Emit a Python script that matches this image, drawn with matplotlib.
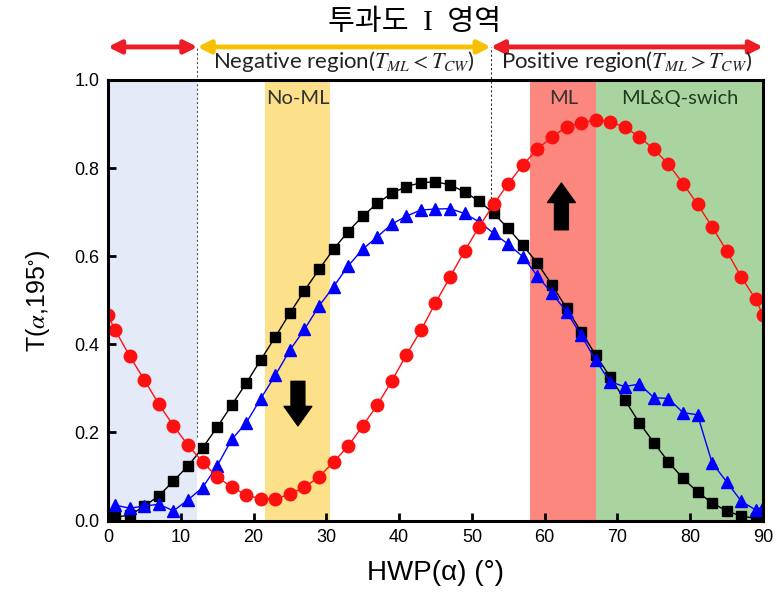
import numpy as np
import matplotlib.pyplot as plt

plt.rcParams['font.family'] = ['Liberation Sans', 'Noto Sans CJK KR', 'DejaVu Sans']
plt.rcParams['mathtext.fontset'] = 'stix'

# HWP angle (deg) for each curve
x_red = [0] + list(range(1, 90, 2)) + [90]
x_black = list(range(1, 90, 2))
x_blue = list(range(1, 90, 2)) + [90]

t_red = [0.466, 0.432, 0.373, 0.319, 0.264, 0.215, 0.171, 0.133, 0.099, 0.076,
         0.058, 0.049, 0.049, 0.060, 0.076, 0.099, 0.133, 0.169, 0.215, 0.262,
         0.317, 0.376, 0.432, 0.494, 0.553, 0.612, 0.667, 0.718, 0.765, 0.807,
         0.843, 0.871, 0.893, 0.903, 0.909, 0.905, 0.893, 0.871, 0.843, 0.809,
         0.765, 0.718, 0.667, 0.612, 0.553, 0.502, 0.466]
t_black = [0.008, 0.012, 0.033, 0.056, 0.090, 0.124, 0.165, 0.212, 0.262, 0.312,
           0.365, 0.417, 0.471, 0.522, 0.570, 0.616, 0.656, 0.691, 0.720, 0.743,
           0.758, 0.767, 0.769, 0.762, 0.746, 0.725, 0.697, 0.663, 0.625, 0.584,
           0.535, 0.482, 0.429, 0.376, 0.326, 0.274, 0.222, 0.177, 0.133, 0.096,
           0.065, 0.040, 0.022, 0.010, 0.005]
t_blue = [0.035, 0.028, 0.033, 0.037, 0.022, 0.047, 0.075, 0.124, 0.184, 0.222,
          0.277, 0.330, 0.387, 0.434, 0.487, 0.531, 0.578, 0.616, 0.644, 0.673,
          0.691, 0.705, 0.707, 0.708, 0.697, 0.678, 0.652, 0.627, 0.599, 0.555,
          0.516, 0.474, 0.421, 0.364, 0.315, 0.304, 0.310, 0.279, 0.277, 0.245,
          0.240, 0.131, 0.088, 0.044, 0.024, 0.031]

# region boundaries (deg)
b_left = 12.3
b_right = 52.6
no_ml = (21.6, 30.5)
ml = (58.0, 67.1)
mlq = (67.1, 90)

fig = plt.figure(figsize=(7.79, 6.06), dpi=100)
ax = fig.add_axes([0.1386, 0.141, 0.8409, 0.727])

ax.axvspan(0, b_left, color='#e4eaf8', lw=0, zorder=0)
ax.axvspan(*no_ml, color='#fde08a', lw=0, zorder=0)
ax.axvspan(*ml, color='#fb877f', lw=0, zorder=0)
ax.axvspan(*mlq, color='#a9d4a0', lw=0, zorder=0)

ax.plot(x_black, t_black, '-s', color='black', ms=7.5, lw=1, zorder=3)
ax.plot(x_blue, t_blue, '-^', color='#0000ff', ms=9, lw=1, zorder=4)
ax.plot(x_red, t_red, '-o', color='#ff1010', ms=9, lw=1, zorder=5)

# dashed boundaries going up to the arrows
ax.plot([b_left, b_left], [0.19, 1.075], ls=(0, (2, 2)), color='#555555', lw=0.8,
        clip_on=False, zorder=2)
ax.plot([b_right, b_right], [0.72, 1.075], ls=(0, (2, 2)), color='#333333', lw=0.8,
        clip_on=False, zorder=2)

def span_arrow(x0, x1, col):
    ax.annotate('', xy=(x0, 1.075), xytext=(x1, 1.075), xycoords='data',
                annotation_clip=False,
                arrowprops=dict(arrowstyle='<|-|>,head_length=0.75,head_width=0.38',
                                color=col, lw=3.5, shrinkA=0, shrinkB=0))

span_arrow(0, b_left, '#ee1c24')
span_arrow(b_left, b_right, '#f7c000')
span_arrow(b_right, 90, '#ee1c24')

ax.text((b_left + b_right) / 2, 1.041, r'Negative region($T_{ML} < T_{CW}$)',
        ha='center', va='center', fontsize=16, family='Lato', color='#222222')
ax.text((b_right + 90) / 2, 1.041, r'Positive region($T_{ML} > T_{CW}$)',
        ha='center', va='center', fontsize=16, family='Lato', color='#222222')

ax.text(sum(no_ml) / 2, 0.958, 'No-ML', ha='center', va='center', fontsize=14.5,
        family='Lato', color='#333333')
ax.text(sum(ml) / 2, 0.958, 'ML', ha='center', va='center', fontsize=14.5,
        family='Lato', color='#333333')
ax.text(78.6, 0.958, 'ML&Q-swich', ha='center', va='center', fontsize=14.5,
        family='Lato', color='#1f3a1f')

# thick black arrows
ax.annotate('', xy=(26.1, 0.215), xytext=(26.1, 0.316),
            arrowprops=dict(arrowstyle='simple,head_length=0.7,head_width=1.0,tail_width=0.5',
                            color='black', mutation_scale=20, shrinkA=0, shrinkB=0))
ax.annotate('', xy=(62.3, 0.766), xytext=(62.3, 0.66),
            arrowprops=dict(arrowstyle='simple,head_length=0.7,head_width=1.0,tail_width=0.5',
                            color='black', mutation_scale=20, shrinkA=0, shrinkB=0))

ax.set_xlim(0, 90)
ax.set_ylim(0, 1.0)
ax.set_xticks(np.arange(0, 91, 10))
ax.set_yticks(np.arange(0, 1.01, 0.2))
ax.set_yticklabels(['0.0', '0.2', '0.4', '0.6', '0.8', '1.0'])
ax.tick_params(direction='in', length=6, width=2, labelsize=13, pad=6)
for s in ax.spines.values():
    s.set_linewidth(2.2)
    s.set_zorder(6)

ax.set_xlabel('HWP(α) (°)', fontsize=20, labelpad=10)
ax.set_ylabel(r'T($\alpha$,195$^{\circ}$)', fontsize=18, labelpad=16)

fig.text(415 / 779, 0.963, '투과도  I  영역', ha='center', va='center', fontsize=21,
         family=['Liberation Serif', 'Noto Sans CJK KR', 'DejaVu Sans'])

fig.savefig('out.png', dpi=100)
